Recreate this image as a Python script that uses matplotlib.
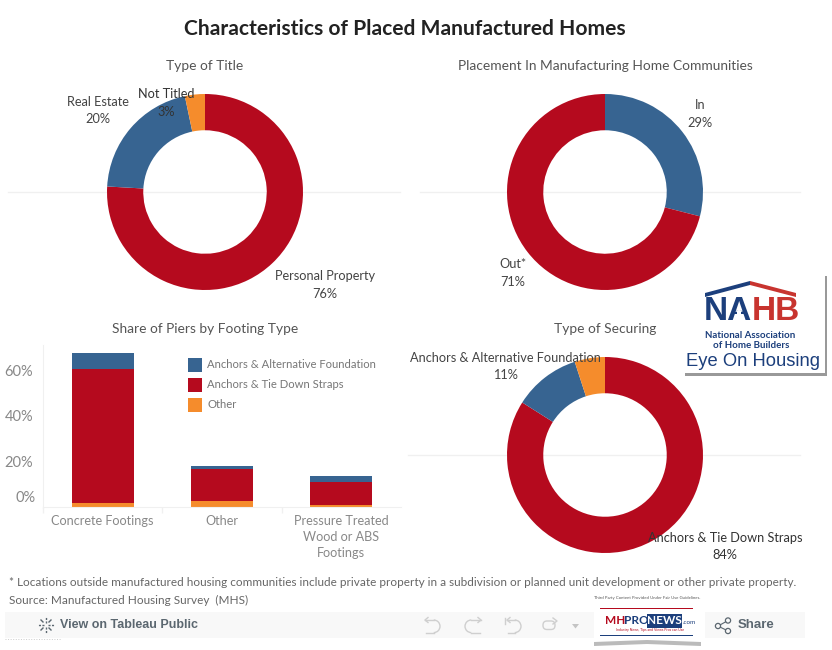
import matplotlib
matplotlib.use("Agg")
from matplotlib import pyplot as plt
from matplotlib.patches import Rectangle, Polygon, Circle, Arc, FancyBboxPatch
import numpy as np

plt.rcParams['font.family'] = ['Lato', 'DejaVu Sans']

BLUE = '#376491'
RED = '#b50a1e'
ORANGE = '#f58c2c'
GREY = '#666666'
NAVY = '#1c3f7c'
ICON = '#cfcfcf'

W, H = 832, 650

# donut data, clockwise from 12 o'clock
title_names = ['Personal Property', 'Real Estate', 'Not Titled']
title_vals = [75.9, 20.8, 3.3]
title_cols = [RED, BLUE, ORANGE]

placement_names = ['In', 'Out*']
placement_vals = [29, 71]
placement_cols = [BLUE, RED]

securing_names = ['Anchors & Tie Down Straps', 'Anchors & Alternative Foundation', 'Other']
securing_vals = [84, 11, 5]
securing_cols = [RED, BLUE, ORANGE]

# stacked bars
footing_cats = ['Concrete Footings', 'Other', 'Pressure Treated', 'Wood or ABS', 'Footings']
footing_other = [1.8, 2.6, 0.9]
footing_straps = [59, 14.1, 10.1]
footing_alt = [7, 1.3, 2.6]
y_ticks = [20, 40, 60]
y_labels = ['20%', '40%', '60%']


def pixelAxes(left, top, right, bottom):
    return fig.add_axes([left / W, 1 - bottom / H, (right - left) / W, (bottom - top) / H])


def donut(cx, cy, vals, cols, r=98):
    ax = pixelAxes(cx - r - 1, cy - r - 1, cx + r + 1, cy + r + 1)
    ax.pie(vals, colors=cols, startangle=90, counterclock=False, radius=1,
           wedgeprops=dict(width=0.37, linewidth=0))
    ax.set_xlim(-(r + 1) / r, (r + 1) / r)
    ax.set_ylim(-(r + 1) / r, (r + 1) / r)
    ax.set_aspect('equal')
    ax.axis('off')


fig = plt.figure(figsize=(W / 100, H / 100), dpi=100, facecolor='white')

# background layer in pixel coords
bg = fig.add_axes([0, 0, 1, 1], zorder=0)
bg.set_xlim(0, W)
bg.set_ylim(H, 0)
bg.axis('off')
bg.plot([8, 400], [192, 192], color='#f0f0f0', lw=1)
bg.plot([420, 800], [192, 192], color='#f0f0f0', lw=1)
bg.plot([408, 800], [455, 455], color='#f0f0f0', lw=1)
bg.add_patch(Rectangle((5, 612), 590, 26, color='#f8f8f8', lw=0))
bg.add_patch(Rectangle((705, 612), 100, 26, color='#f8f8f8', lw=0))
bg.plot([5, 61], [639, 639], color='#cccccc', lw=0.7, ls=':')

donut(205, 192, title_vals, title_cols)
donut(605, 192, placement_vals, placement_cols)
donut(605, 455, securing_vals, securing_cols)

# stacked bars
ax = pixelAxes(43, 345, 401, 507)
x = np.arange(3)
bottom1 = np.array(footing_other)
bottom2 = bottom1 + np.array(footing_straps)
ax.bar(x, footing_other, width=0.52, color=ORANGE)
ax.bar(x, footing_straps, width=0.52, bottom=bottom1, color=RED)
ax.bar(x, footing_alt, width=0.52, bottom=bottom2, color=BLUE)
ax.set_xlim(-0.5, 2.5)
ax.set_ylim(0, 71.2)
ax.set_yticks(y_ticks)
ax.set_yticklabels(y_labels, fontsize=10.5, color='#888888')
ax.set_xticks([-0.5, 0.5, 1.5])
ax.set_xticklabels([])
ax.tick_params(axis='y', length=0, pad=7)
ax.tick_params(axis='x', length=4, color='#f0f0f0', width=1)
for s in ['top', 'right']:
    ax.spines[s].set_visible(False)
for s in ['left', 'bottom']:
    ax.spines[s].set_color('#f0f0f0')
ax.patch.set_alpha(0)

# text and logos on top
top = fig.add_axes([0, 0, 1, 1], zorder=5)
top.set_xlim(0, W)
top.set_ylim(H, 0)
top.axis('off')
top.patch.set_alpha(0)


def label(x, y, s, size=9.2, color=GREY, ha='center', **kw):
    top.text(x, y, s, fontsize=size, color=color, ha=ha, va='center', **kw)


label(405, 29, 'Characteristics of Placed Manufactured Homes', size=15.1, color='#222222', fontweight='bold')
label(205, 66, 'Type of Title', size=9.9, color='#555555')
label(605, 66, 'Placement In Manufacturing Home Communities', size=9.9, color='#555555')
label(205, 329, 'Share of Piers by Footing Type', size=9.9, color='#555555')
label(605, 329, 'Type of Securing', size=9.9, color='#555555')

label(98, 102, title_names[1], color='#444444')
label(98, 119, '20%', color='#444444')
label(166, 94, title_names[2], color='#333333')
label(166, 112, '3%', color='#333333')
label(325, 276, title_names[0], color='#444444')
label(325, 294, '76%', color='#444444')
label(700, 105, placement_names[0], color='#444444')
label(700, 123, '29%', color='#444444')
label(513, 264, placement_names[1], color='#444444')
label(513, 282, '71%', color='#444444')
label(505, 358, securing_names[1], color='#444444')
label(505, 375, '11%', color='#444444')
label(725, 538, securing_names[0], color='#333333')
label(725, 555, '84%', color='#333333')

# axis labels for the bars
label(36, 498, '0%', size=10.5, color='#888888', ha='right')
label(102, 521, footing_cats[0], size=9.1, color='#888888')
label(222, 521, footing_cats[1], size=9.1, color='#888888')
label(341, 521, footing_cats[2], size=9.1, color='#888888')
label(341, 537, footing_cats[3], size=9.1, color='#888888')
label(341, 553, footing_cats[4], size=9.1, color='#888888')

# legend
legend_names = [securing_names[1], securing_names[0], securing_names[2]]
legend_cols = [BLUE, RED, ORANGE]
for i, (n, c) in enumerate(zip(legend_names, legend_cols)):
    yy = 365 + i * 20
    top.add_patch(Rectangle((188, yy - 7), 14, 14, color=c, lw=0))
    label(207, yy, n, size=8.1, color='#777777', ha='left')

# footnotes
label(9, 583, '* Locations outside manufactured housing communities include private property in a subdivision or planned unit development or other private property.',
      size=8.45, color='#666666', ha='left')
label(9, 600, 'Source: Manufactured Housing Survey  (MHS)', size=8.45, color='#666666', ha='left')

# toolbar
label(60, 625.5, 'View on Tableau Public', size=9, color='#5b6770', ha='left', fontweight='bold', family='Liberation Sans')
for dx, dy in [(0, -1), (0, 1), (-1, 0), (1, 0)]:
    top.plot([46 + dx * 2, 46 + dx * 8], [625 + dy * 2, 625 + dy * 8], color='#5b6770', lw=1, ls=(0, (1.5, 1)))
for dx, dy in [(-1, -1), (1, -1), (-1, 1), (1, 1)]:
    top.plot([46 + dx * 3, 46 + dx * 5], [625 + dy * 3, 625 + dy * 5], color='#5b6770', lw=1)
label(738, 625.5, 'Share', size=9.5, color='#5b6770', ha='left', fontweight='bold', family='Liberation Sans')
for cx, cy in [(718, 626), (728, 620.5), (728, 631)]:
    top.add_patch(Circle((cx, cy), 2.6, fill=False, ec='#5b6770', lw=0.9))
top.plot([725.7, 720.3], [621.8, 624.8], color='#5b6770', lw=0.8)
top.plot([725.7, 720.3], [629.8, 627.2], color='#5b6770', lw=0.8)


def undoIcon(x0, x1, flip=False):
    # hooked arrow: short top stroke, half round end, bottom stroke back
    r = 6.3
    if not flip:
        top.plot([x0, x1 - r], [620, 620], color=ICON, lw=1)
        top.plot([x0 + 1, x1 - r], [632.6, 632.6], color=ICON, lw=1)
        top.add_patch(Arc((x1 - r, 626.3), 2 * r, 2 * r, theta1=-90, theta2=90, ec=ICON, lw=1))
        top.plot([x0 + 3, x0, x0 + 3], [617.5, 620, 622.5], color=ICON, lw=1)
    else:
        top.plot([x0 + r, x1], [620, 620], color=ICON, lw=1)
        top.plot([x0 + r, x1 - 1], [632.6, 632.6], color=ICON, lw=1)
        top.add_patch(Arc((x0 + r, 626.3), 2 * r, 2 * r, theta1=90, theta2=270, ec=ICON, lw=1))
        top.plot([x1 - 3, x1, x1 - 3], [617.5, 620, 622.5], color=ICON, lw=1)


undoIcon(425, 440)
undoIcon(465, 481, flip=True)
undoIcon(507, 521)
top.plot([505, 505], [618, 624], color=ICON, lw=1)
top.add_patch(FancyBboxPatch((543, 621), 12, 8.5, boxstyle='round,pad=0,rounding_size=4', fill=False, ec=ICON, lw=1))
top.plot([553, 557, 553], [618, 621, 624], color=ICON, lw=1)
top.add_patch(Polygon([[572, 624], [579, 624], [575.5, 628.5]], color='#c4c4c4', lw=0))

# NAHB logo
top.add_patch(Rectangle((685, 276), 142, 100, color='#999999', lw=0))
top.add_patch(Rectangle((683, 274), 142, 99, color='white', lw=0))
top.add_patch(Polygon([[705, 293], [750, 281], [750, 285], [705, 297]], color=NAVY, lw=0))
top.add_patch(Polygon([[750, 281], [796, 293], [796, 297], [750, 285]], color='#c8342f', lw=0))
top.text(752, 312, 'NA', fontsize=24, fontweight='bold', color=NAVY, ha='right', va='center', family='Liberation Sans')
top.text(752, 312, 'HB', fontsize=24, fontweight='bold', color='#c8342f', ha='left', va='center', family='Liberation Sans')
top.plot([739], [312], marker='*', color='white', ms=6, mew=0, zorder=4)
label(750, 335, 'National Association', size=7, color=NAVY, fontweight='bold')
label(751, 345, 'of Home Builders', size=7, color=NAVY, fontweight='bold')
top.text(753.5, 361.5, 'Eye On Housing', fontsize=13.2, color=NAVY, ha='center', va='center', family='Liberation Sans')

# MHProNews logo
label(647, 598, 'Third Party Content Provided Under Fair Use Guidelines.', size=3.1, color='#555555')
top.add_patch(Rectangle((594, 603), 107, 43, color='white', lw=0))
top.add_patch(Rectangle((600, 607.5), 93, 1.2, color=RED, lw=0))
top.add_patch(Rectangle((600, 634.5), 93, 1.2, color=NAVY, lw=0))
top.text(605, 621, 'MH', fontsize=8.5, fontweight='bold', color=RED, va='center')
top.text(624, 621, 'PRO', fontsize=8.5, fontweight='bold', color=NAVY, va='center')
top.add_patch(Rectangle((647, 614), 35, 14, color=NAVY, lw=0))
top.text(664.5, 621, 'NEWS', fontsize=8.5, fontweight='bold', color='white', ha='center', va='center')
top.text(683, 623, '.com', fontsize=4.5, color=NAVY, va='center')
label(650, 630, 'Industry News, Tips and Views Pros can Use', size=2.5, color=RED)
top.add_patch(Polygon([[594, 642], [647, 640], [701, 642], [701, 646], [647, 644], [594, 646]], color='#bbbbbb', lw=0))

fig.savefig('out.png', dpi=100)
